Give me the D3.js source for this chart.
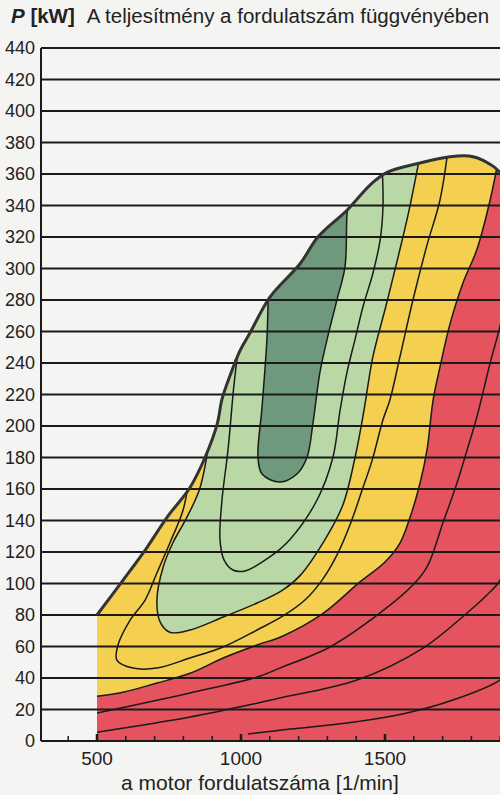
<!DOCTYPE html>
<meta charset="utf-8">
<script src="https://d3js.org/d3.v7.min.js"></script>
<style>
  body { margin: 0; background: #f4f4f2; }
  svg { display: block; font-family: "Liberation Sans", Arial, sans-serif; }
</style>
<div id="chart"></div>
<script>
// teljesítmény tartomány (kW), fordulatszám (1/min)
const yTicks = d3.range(0, 441, 20);
const xMinorTicks = d3.range(400, 2000, 100);
const xLabels = [500, 1000, 1500];

// külső burkológörbe (max. teljesítmény)
const envelope = [[500, 80], [590, 102], [674, 123], [743, 142], [823, 161], [875, 180],
  [917, 201], [934, 217], [962, 232], [997, 248], [1031, 259], [1101, 282], [1205, 303],
  [1267, 320], [1368, 337], [1448, 353], [1507, 361], [1622, 367], [1726, 371],
  [1806, 371], [1875, 365], [1899, 361], [1940, 350]];

// szintvonalak
const darkGreen = [[1095, 288], [1090, 255], [1073, 212], [1059, 180], [1073, 169.5],
  [1135, 164.4], [1194, 169.5], [1229, 180], [1250, 202], [1274, 234], [1299, 255],
  [1333, 280], [1361, 301], [1368, 334], [1375, 345]];
const lineC2 = [[995, 256], [975, 225], [955, 185], [934, 153], [927, 128], [941, 115],
  [972, 108.6], [1014, 108], [1101, 117], [1170, 128], [1264, 153], [1319, 180],
  [1344, 210], [1368, 234], [1396, 255], [1424, 276], [1458, 297], [1483, 318],
  [1493, 339], [1490, 365]];
const lightGreen = [[893, 195], [858, 161], [812, 142], [764, 126], [729, 110], [708, 89.5],
  [719, 75.6], [753, 69], [823, 70.5], [938, 78.7], [1056, 87.6], [1146, 96], [1205, 105],
  [1292, 128], [1354, 150], [1396, 180], [1427, 210], [1458, 244], [1503, 276],
  [1545, 307], [1580, 334], [1625, 375]];
const lineC4 = [[818, 165], [799, 146.7], [753, 125.7], [708, 106.7], [667, 89.5],
  [615, 76.8], [573, 61], [569, 51.4], [625, 46.3], [708, 46.3], [823, 52.7], [938, 59.7],
  [1056, 70.5], [1146, 79.4], [1222, 89.5], [1281, 102], [1333, 118], [1378, 137],
  [1420, 159], [1455, 178], [1493, 204], [1517, 216.5], [1552, 244], [1597, 280],
  [1646, 315], [1691, 343.5], [1722, 380]];
const yellow = [[480, 28], [590, 31], [708, 36.8], [823, 43], [938, 52.7], [1056, 61],
  [1146, 66.7], [1285, 81], [1413, 101], [1500, 113.7], [1552, 125.7], [1587, 142],
  [1622, 164], [1646, 185], [1667, 216.5], [1691, 237.5], [1726, 265], [1771, 291],
  [1819, 312], [1865, 343.5], [1900, 375]];
const lineC6 = [[480, 17], [823, 30.5], [1056, 40.6], [1135, 46.3], [1309, 59.7],
  [1483, 81.3], [1597, 99], [1646, 110.5], [1701, 138.4], [1750, 163.8], [1785, 184.8],
  [1819, 205.7], [1865, 240], [1899, 263], [1930, 290]];
const lineC7 = [[480, 5], [823, 15.2], [1056, 24], [1135, 27.3], [1403, 38.7], [1632, 59],
  [1785, 81.3], [1854, 92.7], [1899, 102], [1930, 120]];
const lineC8 = [[1024, 4.4], [1170, 7.6], [1368, 11.4], [1576, 17.8], [1736, 26],
  [1899, 38.7], [1930, 45]];

const W = 500, H = 795;
const x = d3.scaleLinear().domain([500, 1500]).range([97, 385]);
const y = d3.scaleLinear().domain([0, 440]).range([741, 48]);
const x0 = 41, x1 = 500;

const svg = d3.select("#chart").append("svg")
  .attr("width", W).attr("height", H);

const smooth = d3.line().x(d => x(d[0])).y(d => y(d[1])).curve(d3.curveCatmullRom.alpha(0.5));

// burkológörbén belüli terület, vágáshoz
svg.append("clipPath").attr("id", "env")
  .append("path")
  .attr("d", "M" + x(500) + "," + y(0) + "L" + smooth(envelope).slice(1) +
    "L" + x(1940) + "," + y(0) + "Z");

const plot = svg.append("g").attr("clip-path", "url(#env)");

// zárt tartomány: szintvonal + külső pontok
function region(pts, outside) {
  let d = smooth(pts);
  outside.forEach(p => { d += "L" + x(p[0]) + "," + y(p[1]); });
  return d + "Z";
}

plot.append("rect").attr("x", x0).attr("y", 0).attr("width", W).attr("height", y(0))
  .attr("fill", "#e5535e");
plot.append("path").attr("d", region(yellow, [[1900, 460], [400, 460], [400, 28]]))
  .attr("fill", "#f4cf50");
plot.append("path").attr("d", region(lightGreen, [[1625, 460], [650, 460], [650, 200]]))
  .attr("fill", "#b9d8a5");
plot.append("path").attr("d", region(darkGreen, [[1375, 460], [1050, 460], [1050, 300]]))
  .attr("fill", "#6e997c");

// vízszintes rácsvonalak
svg.append("g").selectAll("line")
  .data(yTicks)
  .join("line")
    .attr("x1", x0).attr("x2", x1)
    .attr("y1", d => y(d)).attr("y2", d => y(d))
    .attr("stroke", "#1a1a1a")
    .attr("stroke-width", 1.8);

// szintvonalak rajzolása
const lines = [darkGreen, lineC2, lightGreen, lineC4, yellow, lineC6, lineC7, lineC8];
plot.append("g").selectAll("path")
  .data(lines)
  .join("path")
    .attr("d", d => smooth(d))
    .attr("fill", "none")
    .attr("stroke", "#1a1a1a")
    .attr("stroke-width", 1.5);

// burkológörbe
svg.append("path")
  .attr("d", smooth(envelope))
  .attr("fill", "none")
  .attr("stroke", "#333")
  .attr("stroke-width", 3)
  .attr("stroke-linejoin", "round");

// tengelyek
svg.append("line").attr("x1", x0).attr("x2", x0).attr("y1", y(440)).attr("y2", y(0))
  .attr("stroke", "#1a1a1a").attr("stroke-width", 2);
svg.append("line").attr("x1", x0).attr("x2", x1).attr("y1", y(0)).attr("y2", y(0))
  .attr("stroke", "#1a1a1a").attr("stroke-width", 2);

svg.append("g").selectAll("line")
  .data(xMinorTicks)
  .join("line")
    .attr("x1", d => x(d)).attr("x2", d => x(d))
    .attr("y1", y(0)).attr("y2", d => y(0) - (xLabels.includes(d) ? 7 : 5))
    .attr("stroke", "#1a1a1a")
    .attr("stroke-width", d => xLabels.includes(d) ? 2.5 : 1.5);

svg.append("g").selectAll("text")
  .data(xLabels)
  .join("text")
    .attr("x", d => x(d)).attr("y", 765)
    .attr("text-anchor", "middle")
    .attr("font-size", 19)
    .attr("fill", "#222")
    .text(d => d);

svg.append("g").selectAll("text")
  .data(yTicks)
  .join("text")
    .attr("x", 35).attr("y", d => y(d) + 6)
    .attr("text-anchor", "end")
    .attr("font-size", 18)
    .attr("fill", "#222")
    .text(d => d);

svg.append("text")
  .attr("x", 260).attr("y", 790)
  .attr("text-anchor", "middle")
  .attr("font-size", 21)
  .attr("fill", "#222")
  .text("a motor fordulatszáma [1/min]");

const title = svg.append("text").attr("x", 11).attr("y", 23)
  .attr("font-size", 20.5).attr("fill", "#222");
title.append("tspan").attr("font-weight", "bold").attr("font-style", "italic").text("P");
title.append("tspan").attr("font-weight", "bold").text(" [kW]");
title.append("tspan").attr("dx", 12).text("A teljesítmény a fordulatszám függvényében");
</script>
